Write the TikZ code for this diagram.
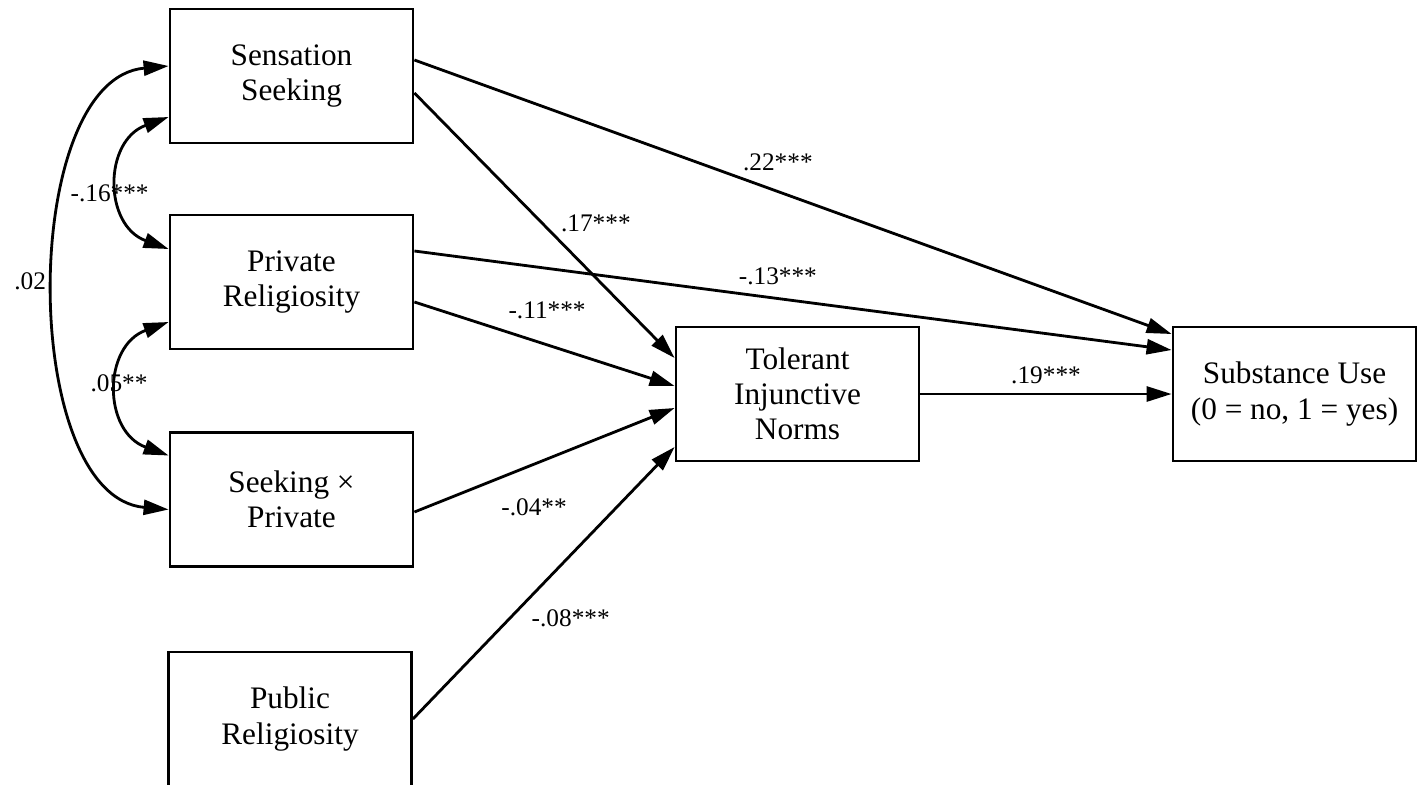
\documentclass[tikz,border=0pt]{standalone}
\usepackage{fontspec}
\setmainfont{Liberation Serif}
\usetikzlibrary{arrows.meta, positioning}

\begin{document}
\begin{tikzpicture}[
        box/.style={draw, rectangle, line width=0.8pt, minimum width=2.43cm, minimum height=1.34cm, align=center, font=\fontsize{8.9}{10}\selectfont},
        arr/.style={draw, line width=0.8pt, -{Triangle[length=2.5mm, width=1.5mm]}},
        cov/.style={draw, line width=0.8pt, {Triangle[length=2.5mm, width=1.5mm]}-{Triangle[length=2.5mm, width=1.5mm]}},
        coef/.style={font=\fontsize{7.2}{8.6}\selectfont, inner sep=0pt}
    ]
            \useasboundingbox (0,0) rectangle (14.21,7.84);
            \node[box] (ss) at (2.915,7.08) {Sensation\\Seeking};
            \node[box] (pr) at (2.915,5.02) {Private\\Religiosity};
            \node[box] (sxp) at (2.915,2.845) {Seeking ×\\Private};
            \node[box] (pub) at (2.90,0.65) {Public\\Religiosity};
            \node[box] (tin) at (7.975,3.90) {Tolerant\\Injunctive\\Norms};
            \node[box] (su) at (12.945,3.90) {Substance Use\\(0 = no, 1 = yes)};
            % paths to substance use
            \path [arr] ([yshift=1.6mm]ss.east) -- node[coef, pos=.48, yshift=2.9mm] {.22***} ([yshift=6mm]su.west);
            \path [arr] ([yshift=3.1mm]pr.east) -- node[coef, pos=.48, yshift=2.2mm] {-.13***} ([yshift=4.4mm]su.west);
            \path [arr] (tin.east) -- node[coef, pos=.5, yshift=1.9mm] {.19***} (su.west);
            % paths to norms
            \path [arr] ([yshift=-1.7mm]ss.east) -- node[coef, pos=.49, xshift=5.4mm] {.17***} ([yshift=3.6mm]tin.west);
            \path [arr] ([yshift=-2mm]pr.east) -- node[coef, pos=.51, yshift=3.5mm] {-.11***} ([yshift=0.8mm]tin.west);
            \path [arr] ([yshift=-1.25mm]sxp.east) -- node[coef, pos=.46, yshift=-4.3mm] {-.04**} ([yshift=-1.4mm]tin.west);
            \path [arr] (pub.east) -- node[coef, pos=.37, xshift=6.1mm] {-.08***} ([yshift=-5.3mm]tin.west);
            % covariances
            \path [cov] ([yshift=-4.1mm]ss.west) to[out=200, in=160, looseness=1.35] node[coef, pos=.5, xshift=-1mm, yshift=-1mm] {-.16***} ([yshift=3.3mm]pr.west);
            \path [cov] ([yshift=-4mm]pr.west) to[out=200, in=160, looseness=1.35] node[coef, pos=.5, yshift=.5mm] {.05**} ([yshift=4.4mm]sxp.west);
            \path [cov] ([yshift=1mm]ss.west) to[out=185, in=175, looseness=0.87] node[coef, pos=.5, xshift=-2.6mm, yshift=.6mm] {.02} ([yshift=-1mm]sxp.west);
        \end{tikzpicture}
\end{document}
